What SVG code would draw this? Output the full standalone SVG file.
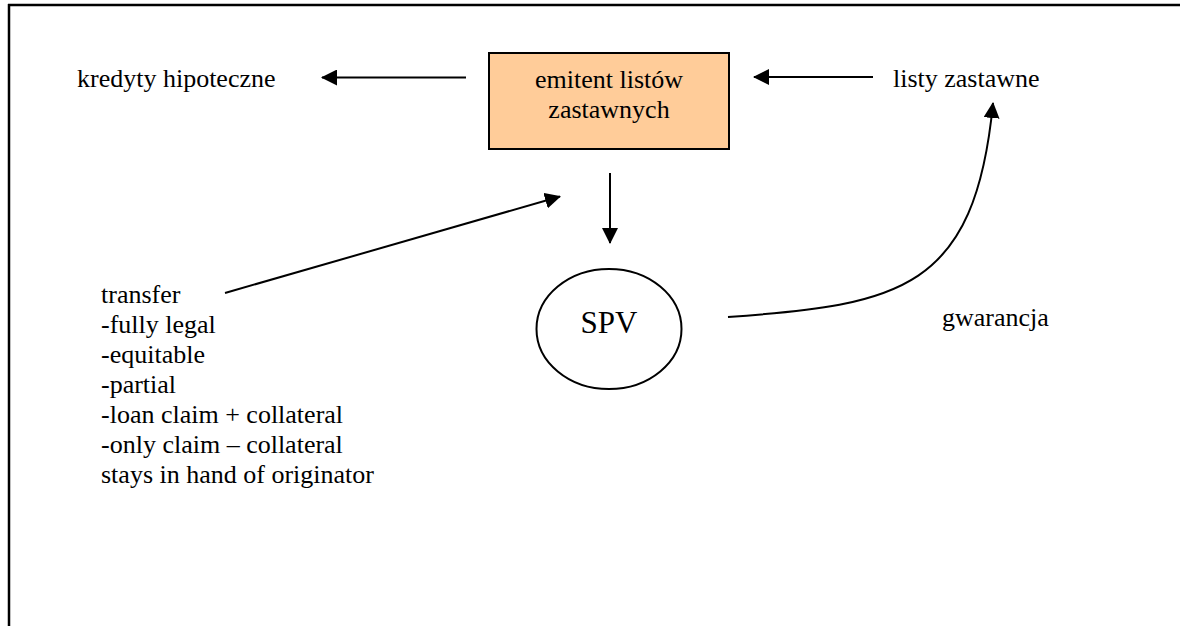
<svg xmlns="http://www.w3.org/2000/svg" width="1180" height="626" viewBox="0 0 1180 626">
  <style>
    .ln { stroke: #000; stroke-width: 2; fill: none; }
  </style>
  <defs>
    <marker id="ah" viewBox="0 0 16 16" refX="15" refY="8" markerWidth="16" markerHeight="16" markerUnits="userSpaceOnUse" orient="auto">
      <path d="M0,0 L16,8 L0,16 z" fill="#000"/>
    </marker>
  </defs>
  <rect width="1180" height="626" fill="#fff"/>
  <g id="frame">
    <line x1="8" y1="5" x2="1180" y2="5" stroke="#000" stroke-width="2.5"/>
    <line x1="9" y1="4" x2="9" y2="626" stroke="#000" stroke-width="2.5"/>
  </g>
  <g id="connectors">
    <line class="ln" x1="466" y1="77.5" x2="322" y2="77.5" marker-end="url(#ah)"/>
    <line class="ln" x1="873" y1="77" x2="754" y2="77" marker-end="url(#ah)"/>
    <line class="ln" x1="610" y1="173" x2="610" y2="243" marker-end="url(#ah)"/>
    <line class="ln" x1="225" y1="293" x2="560" y2="196.5" marker-end="url(#ah)"/>
    <path class="ln" d="M728,317 C900,305 975,290 993,103" marker-end="url(#ah)"/>
  </g>
  <g font-family="Liberation Serif, Times New Roman, serif" font-size="26" fill="#000">
    <g id="emitent">
      <rect x="489" y="53" width="240" height="96" fill="#FFCC99" stroke="#000" stroke-width="2"/>
      <text x="609" y="88" text-anchor="middle">emitent listów</text>
      <text x="609" y="118" text-anchor="middle">zastawnych</text>
    </g>
    <g id="kredyty">
      <text x="77" y="87">kredyty hipoteczne</text>
    </g>
    <g id="listy">
      <text x="893" y="87">listy zastawne</text>
    </g>
    <g id="spv">
      <ellipse cx="609" cy="329" rx="72.5" ry="60" fill="#fff" stroke="#000" stroke-width="2"/>
      <text x="609" y="333" text-anchor="middle" font-size="31">SPV</text>
    </g>
    <g id="gwarancja">
      <text x="942" y="326">gwarancja</text>
    </g>
    <g id="transfer">
      <text x="101" y="303">transfer</text>
      <text x="101" y="333">-fully legal</text>
      <text x="101" y="363">-equitable</text>
      <text x="101" y="393">-partial</text>
      <text x="101" y="423">-loan claim + collateral</text>
      <text x="101" y="453">-only claim – collateral</text>
      <text x="101" y="483">stays in hand of originator</text>
    </g>
  </g>
</svg>
